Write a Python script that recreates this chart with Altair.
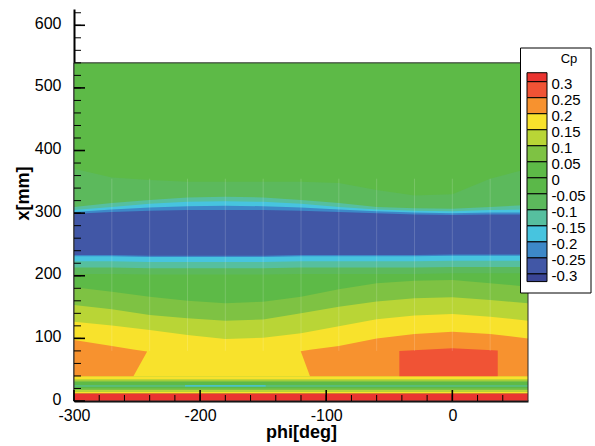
import altair as alt
import pandas as pd

FONT = "Liberation Sans"

# azimuth stations (deg) at which the contour boundaries are tabulated
PHI = [-300, -270, -240, -210, -180, -150, -120, -90, -60, -30, 0, 30, 60]

# Cp contour levels (legend labels) and band colours, highest band first
CP_LABELS = ["0.3", "0.25", "0.2", "0.15", "0.1", "0.05", "0", "-0.05",
             "-0.1", "-0.15", "-0.2", "-0.25", "-0.3"]
CP_VALUES = [0.3, 0.25, 0.2, 0.15, 0.1, 0.05, 0.0, -0.05,
             -0.1, -0.15, -0.2, -0.25, -0.3]
BAND_COLORS = ["#EA3430", "#F05335", "#F7922F", "#F8E22C", "#B9D536",
               "#7EC243", "#5DBA47", "#5BB849", "#5CB95C", "#56BF9F",
               "#47C4DF", "#3D88C8", "#4157A6", "#3A4595"]
BAND_NAMES = ["b%02d" % i for i in range(len(BAND_COLORS))]
# extents of the colour-bar swatches in Cp units
SWATCH_TOP = [0.328] + CP_VALUES
SWATCH_BOTTOM = CP_VALUES + [-0.324]

RED, REDOR, ORANGE, YELLOW, YGREEN, LGREEN, GREEN, GREEN0, GREEN2, TEAL, CYAN, MBLUE, BLUE, NAVY = range(14)

# measured zone
ZONE_PHI = [-300, 60]
ZONE_LO = [0, 0]
ZONE_HI = [540, 540]

# contour band boundaries x[mm] at the PHI stations
G2_UPPER = [371, 357, 353, 350, 350, 350, 350, 348, 337, 328, 330, 355, 371]
TEAL_UPPER = [310, 316, 321, 325, 326, 325, 321, 316, 310, 308, 307, 310, 313]
CYAN_UPPER = [305, 310, 315, 318, 319, 318, 315, 310, 306, 304, 303, 305, 306]
MBLUE_UPPER = [302, 306, 309, 311, 312, 311, 309, 306, 303, 301, 300, 301, 301]
BLUE_UPPER = [299, 302, 304, 305, 305, 305, 304, 302, 300, 298, 297, 298, 298]
BLUE_LOWER = [233, 233, 232, 232, 232, 232, 233, 233, 233, 233, 234, 234, 234]
MBLUE_LOWER = [231, 231, 230, 230, 230, 230, 231, 231, 231, 231, 232, 232, 232]
CYAN_LOWER = [223, 223, 222, 222, 222, 222, 223, 223, 223, 223, 224, 224, 224]
TEAL_LOWER = [213, 213, 212, 212, 212, 212, 213, 213, 213, 213, 214, 214, 214]
G2_LOWER = [203, 203, 202, 202, 202, 202, 203, 203, 203, 203, 204, 204, 204]
LG_UPPER = [181.6, 174.6, 166.6, 160.2, 156, 158.6, 166.6, 178.4, 188, 192.2, 193.3, 188, 182.6]
YG_UPPER = [153.4, 146.4, 137.4, 132, 128.3, 130.3, 140, 150.7, 158.7, 164, 165.6, 161.3, 156]
Y_UPPER = [126.7, 120.5, 113.4, 105.4, 99, 101, 108, 119.5, 130.5, 136.5, 139, 134.7, 128.3]
FLOOR = [39] * len(PHI)

# closed high-pressure patches
OR_LEFT_PHI = [-300, -270, -253, -242]
OR_LEFT_LO = [39, 39, 39, 79]
OR_LEFT_HI = [97.4, 88, 82.3, 79]
OR_RIGHT_PHI = [-120.2, -112.8, -90, -60, -30, 0, 30, 60]
OR_RIGHT_LO = [79.4, 39, 39, 39, 39, 39, 39, 39]
OR_RIGHT_HI = [79.4, 82, 88, 100, 107, 110.7, 107, 100]
RED_PHI = [-42, 0, 36]
RED_LO = [39, 39, 39]
RED_HI = [80, 84.2, 80.5]

# thin full-width bands near the leading edge
STRIPE_LO = [0, 12.5, 15, 17.5, 20.5, 23, 25, 30.5, 32.5, 34.5]
STRIPE_HI = [12.5, 15, 17.5, 20.5, 23, 25, 30.5, 32.5, 34.5, 39]
STRIPE_BAND = [RED, YELLOW, YGREEN, LGREEN, GREEN, TEAL, GREEN, LGREEN, YGREEN, YELLOW]
STREAK_PHI = [-212, -148]
STREAK_LO = [23, 23]
STREAK_HI = [25, 25]

# mesh lines
MESH_PHI = [-270, -240, -210, -180, -150, -120, -90, -60, -30, 0, 30]
MESH_LO = 80
MESH_HI = 355

# axis ticks and labels
X_LABELS = [-300, -200, -100, 0]
X_MINOR = list(range(-280, 60, 20))
Y_LABELS = [0, 100, 200, 300, 400, 500, 600]
Y_MINOR = list(range(20, 640, 20))

X_AXIS = alt.Axis(values=X_LABELS, labelExpr="'' + datum.value", ticks=False, tickSize=0,
                  grid=False, domainColor="black", domainWidth=2, labelFont=FONT,
                  labelFontSize=16, labelColor="black", labelPadding=6, labelFlush=False,
                  labelOverlap=False, titleFont=FONT, titleFontSize=18, titleFontWeight="bold",
                  titleColor="black", titleBaseline="alphabetic", titleY=36)
Y_AXIS = alt.Axis(values=Y_LABELS, labelExpr="'' + datum.value", ticks=False, tickSize=0,
                  grid=False, domainColor="black", domainWidth=2, labelFont=FONT,
                  labelFontSize=16, labelColor="black", labelPadding=13, labelFlush=False,
                  labelOffset=-2, labelOverlap=False, titleFont=FONT, titleFontSize=18,
                  titleFontWeight="bold", titleColor="black", titleAngle=-90,
                  titleBaseline="middle", titleX=-51, titleY=184)

X_ENC = alt.X("phi:Q", scale=alt.Scale(domain=[-300, 60], nice=False, zero=False),
              axis=X_AXIS, title="phi[deg]")
Y_ENC = alt.Y("lo:Q", scale=alt.Scale(domain=[0, 626], nice=False, zero=False),
              axis=Y_AXIS, title="x[mm]", stack=False)


def area(phi, lo, hi, band):
    df = pd.DataFrame({"phi": phi, "lo": lo, "hi": hi})
    return alt.Chart(df).mark_area(color=BAND_COLORS[band], interpolate="linear",
                                   strokeWidth=0).encode(x=X_ENC, y=Y_ENC, y2="hi:Q")


layers = [
    area(ZONE_PHI, ZONE_LO, ZONE_HI, GREEN),
    area(PHI, G2_LOWER, G2_UPPER, GREEN2),
    area(PHI, TEAL_LOWER, TEAL_UPPER, TEAL),
    area(PHI, CYAN_LOWER, CYAN_UPPER, CYAN),
    area(PHI, MBLUE_LOWER, MBLUE_UPPER, MBLUE),
    area(PHI, BLUE_LOWER, BLUE_UPPER, BLUE),
    area(PHI, FLOOR, LG_UPPER, LGREEN),
    area(PHI, FLOOR, YG_UPPER, YGREEN),
    area(PHI, FLOOR, Y_UPPER, YELLOW),
    area(OR_LEFT_PHI, OR_LEFT_LO, OR_LEFT_HI, ORANGE),
    area(OR_RIGHT_PHI, OR_RIGHT_LO, OR_RIGHT_HI, ORANGE),
    area(RED_PHI, RED_LO, RED_HI, REDOR),
]
for lo, hi, band in zip(STRIPE_LO, STRIPE_HI, STRIPE_BAND):
    layers.append(area(ZONE_PHI, [lo, lo], [hi, hi], band))
layers.append(area(STREAK_PHI, STREAK_LO, STREAK_HI, CYAN))

# faint mesh lines
mesh_df = pd.DataFrame({"phi": MESH_PHI, "lo": [MESH_LO] * len(MESH_PHI),
                        "hi": [MESH_HI] * len(MESH_PHI)})
layers.append(alt.Chart(mesh_df).mark_rule(color="white", opacity=0.16, strokeWidth=1)
              .encode(x=X_ENC, y=Y_ENC, y2="hi:Q"))

# outline of the measured zone
zone_df = pd.DataFrame({"phi": [ZONE_PHI[0]], "phi1": [ZONE_PHI[1]],
                        "lo": [ZONE_LO[0]], "hi": [ZONE_HI[0]]})
layers.append(alt.Chart(zone_df).mark_rect(fillOpacity=0, stroke="#2a2a2a", strokeWidth=1)
              .encode(x=X_ENC, x2="phi1:Q", y=Y_ENC, y2="hi:Q"))

# inward ticks
layers.append(alt.Chart(pd.DataFrame({"phi": X_MINOR})).mark_rule(color="black", strokeWidth=1)
              .encode(x=X_ENC, y=alt.value(392), y2=alt.value(386)))
layers.append(alt.Chart(pd.DataFrame({"phi": X_LABELS})).mark_rule(color="black", strokeWidth=1.6)
              .encode(x=X_ENC, y=alt.value(392), y2=alt.value(381)))
layers.append(alt.Chart(pd.DataFrame({"lo": Y_MINOR})).mark_rule(color="black", strokeWidth=1)
              .encode(y=Y_ENC, x=alt.value(0), x2=alt.value(7)))
layers.append(alt.Chart(pd.DataFrame({"lo": Y_LABELS})).mark_rule(color="black", strokeWidth=1.6)
              .encode(y=Y_ENC, x=alt.value(0), x2=alt.value(11)))

field = alt.layer(*layers)

# colour bar
LEGEND_Y = alt.Scale(domain=[-0.3, 0.3], range=[264.9, 72.7], nice=False, zero=False)
swatch_df = pd.DataFrame({"top": SWATCH_TOP, "bot": SWATCH_BOTTOM, "band": BAND_NAMES})
label_df = pd.DataFrame({"top": CP_VALUES, "label": CP_LABELS})

box = alt.Chart(pd.DataFrame({"k": [0]})).mark_rect(
    fill="white", stroke="black", strokeWidth=1
).encode(x=alt.value(446.5), x2=alt.value(517), y=alt.value(39), y2=alt.value(284))
swatches = alt.Chart(swatch_df).mark_rect(stroke="black", strokeWidth=1).encode(
    y=alt.Y("top:Q", scale=LEGEND_Y, axis=None),
    y2="bot:Q",
    x=alt.value(453), x2=alt.value(473),
    fill=alt.Fill("band:N", scale=alt.Scale(domain=BAND_NAMES, range=BAND_COLORS), legend=None),
)
labels = alt.Chart(label_df).mark_text(
    align="left", baseline="middle", dy=2, font=FONT, fontSize=15, color="black"
).encode(y=alt.Y("top:Q", scale=LEGEND_Y, axis=None), x=alt.value(477.5), text="label:N")
legend_title = alt.Chart(pd.DataFrame({"t": ["Cp"]})).mark_text(
    font=FONT, fontSize=13, color="black", baseline="middle"
).encode(x=alt.value(495), y=alt.value(50), text="t:N")

legend = alt.layer(box, swatches, labels, legend_title)

chart = (
    alt.layer(field, legend)
    .resolve_scale(x="independent", y="independent")
    .properties(width=454, height=392, autosize=alt.AutoSizeParams(type="none"),
                padding={"left": 74, "top": 9, "right": 67, "bottom": 45},
                background="white")
    .configure_view(stroke=None)
)

chart.save("out.html", embed_options={"renderer": "svg", "actions": False})
